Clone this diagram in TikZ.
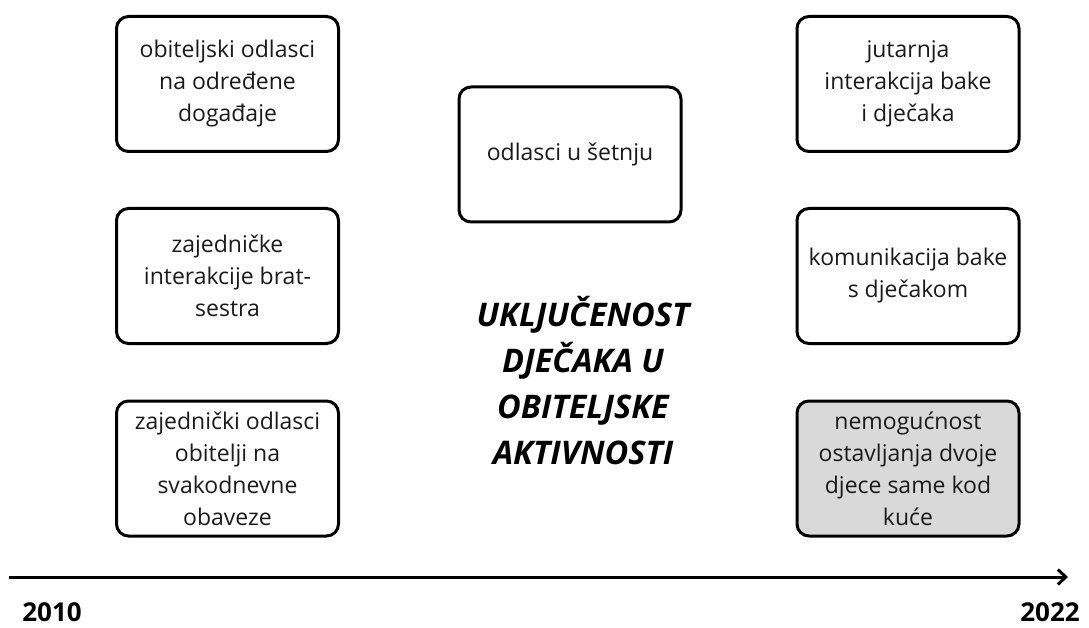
\documentclass[tikz,border=0pt]{standalone}
\usepackage{fontspec}
\setmainfont{Open Sans}
\usetikzlibrary{arrows.meta}
\definecolor{ink}{HTML}{1A1A1A}
\definecolor{grayfill}{HTML}{D9D9D9}
\tikzset{
  card/.style={draw=black, line width=3pt, rounded corners=12pt, fill=white,
    minimum width=222pt, minimum height=135pt, align=center, text=ink,
    inner sep=3pt, font=\fontsize{23}{32}\selectfont},
  graycard/.style={card, fill=grayfill},
  title/.style={align=center, text=black, font=\fontsize{32.5}{46}\selectfont\bfseries\itshape},
  year/.style={text=black, inner sep=0pt, anchor=base, font=\fontsize{26}{30}\selectfont\bfseries},
  timeline/.style={line width=3pt, -{Straight Barb[length=8pt,width=15pt,line width=3pt]}}
}
\begin{document}
\begin{tikzpicture}[x=1pt,y=-1pt]
\useasboundingbox[fill=white] (0,0) rectangle (1089,628);
\node[card] (l1) at (227.5,84) {obiteljski odlasci\\na određene\\događaje};
\node[card] (l2) at (227.5,276) {zajedničke\\interakcije brat-\\sestra};
\node[card] (l3) at (227.5,468.5) {zajednički odlasci\\obitelji na\\svakodnevne\\obaveze};
\node[card] (m1) at (570,154.5) {odlasci u šetnju};
\node[card] (r1) at (908,84) {jutarnja\\interakcija bake\\i dječaka};
\node[card] (r2) at (908,276) {komunikacija bake\\s dječakom};
\node[graycard] (r3) at (908,468.5) {nemogućnost\\ostavljanja dvoje\\djece same kod\\kuće};
\node[title] (t) at (583,381) {UKLJUČENOST\\DJEČAKA U\\OBITELJSKE\\AKTIVNOSTI};
\coordinate (ts) at (9,577);
\coordinate (te) at (1068,577);
\draw[timeline] (ts) -- (te);
\node[year] (y1) at (52,621) {2010};
\node[year] (y2) at (1050,621) {2022};
\end{tikzpicture}
\end{document}
